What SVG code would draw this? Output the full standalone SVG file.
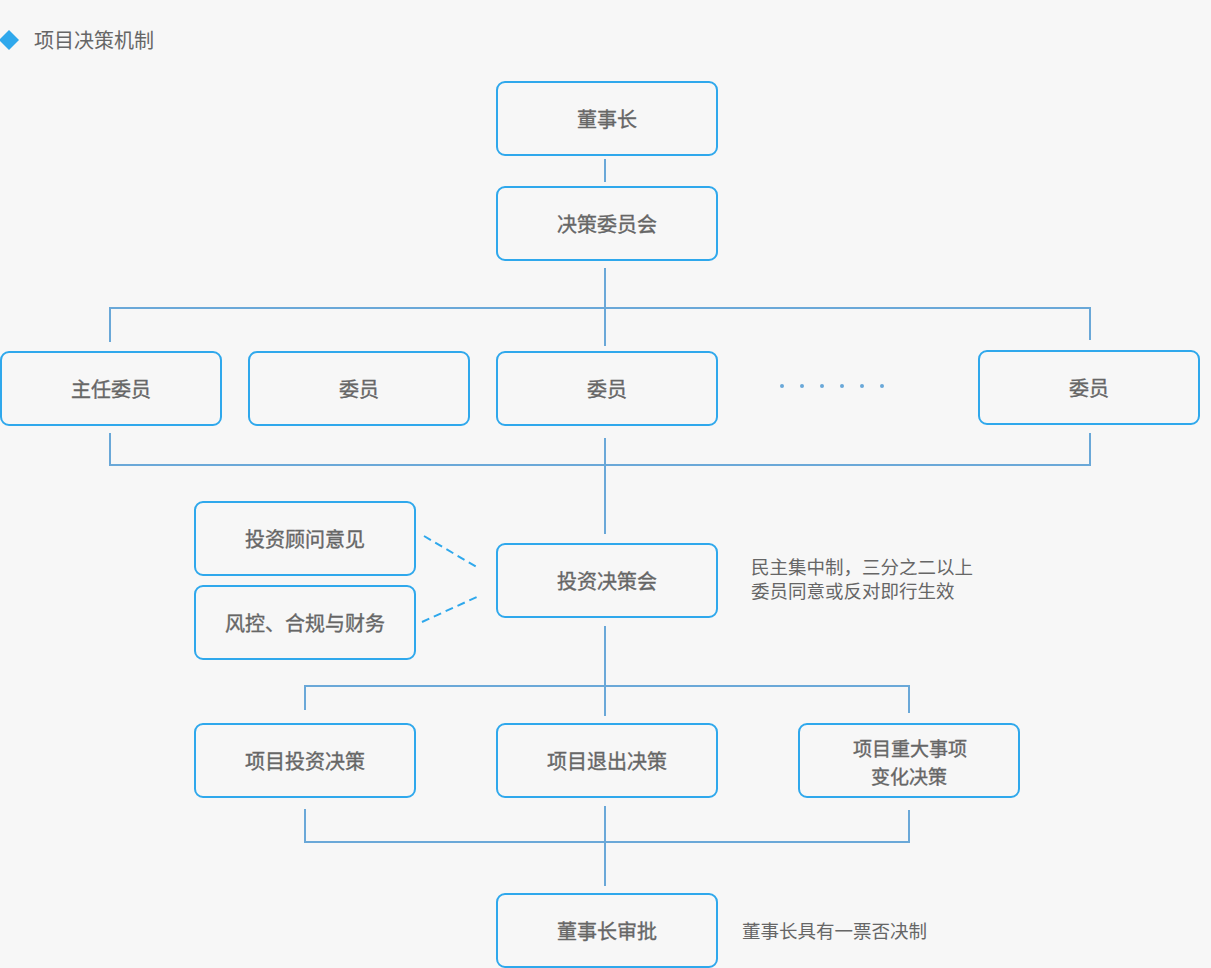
<svg xmlns="http://www.w3.org/2000/svg" width="1211" height="968" viewBox="0 0 1211 968">
<style>
.bg{fill:#f7f7f7}
.box{fill:#f7f7f7;stroke:#2fa8ec;stroke-width:2}
.lbl{font-family:"Noto Sans CJK SC","Noto Sans",sans-serif;font-size:20px;font-weight:normal;fill:#666;stroke:#666;stroke-width:0.35;text-anchor:middle;dominant-baseline:central}
.sm{font-size:19px}
.note{font-family:"Noto Sans CJK SC","Noto Sans",sans-serif;font-size:18.5px;fill:#666}
.title{font-family:"Noto Sans CJK SC","Noto Sans",sans-serif;font-size:20px;fill:#666}
.ln{fill:none;stroke:#6aa8d8;stroke-width:2}
.dash{fill:none;stroke:#2fa8ec;stroke-width:2;stroke-dasharray:8 5}
.dot{fill:#6aa8d8}
</style>
<rect class="bg" x="0" y="0" width="1211" height="968"/>
<g id="title">
<polygon points="9,30 19,40 9,50 -1,40" fill="#2fa8ec"/>
<text class="title" x="34" y="48">项目决策机制</text>
</g>
<g id="connectors">
<path class="ln" d="M605,159V182"/>
<path class="ln" d="M605,268V346M110,342V308H1090V340"/>
<path class="ln" d="M110,433V465H1090V433M605,438V534"/>
<path class="ln" d="M605,626V716M305,710V686H909V713"/>
<path class="ln" d="M305,809V842H909V810M605,806V886"/>
<path class="dash" d="M424,536L480,569"/>
<path class="dash" d="M422,622L479,596"/>
<g id="ellipsis">
<circle class="dot" cx="782" cy="386" r="2"/>
<circle class="dot" cx="802" cy="386" r="2"/>
<circle class="dot" cx="822" cy="386" r="2"/>
<circle class="dot" cx="842" cy="386" r="2"/>
<circle class="dot" cx="862" cy="386" r="2"/>
<circle class="dot" cx="882" cy="386" r="2"/>
</g>
</g>
<g id="n-chairman"><rect class="box" x="497" y="82" width="220" height="73" rx="8"/><text class="lbl" x="607" y="118">董事长</text></g>
<g id="n-committee"><rect class="box" x="497" y="187" width="220" height="73" rx="8"/><text class="lbl" x="607" y="223">决策委员会</text></g>
<g id="n-director"><rect class="box" x="1" y="352" width="220" height="73" rx="8"/><text class="lbl" x="111" y="388">主任委员</text></g>
<g id="n-member1"><rect class="box" x="249" y="352" width="220" height="73" rx="8"/><text class="lbl" x="359" y="388">委员</text></g>
<g id="n-member2"><rect class="box" x="497" y="352" width="220" height="73" rx="8"/><text class="lbl" x="607" y="388">委员</text></g>
<g id="n-member3"><rect class="box" x="979" y="351" width="220" height="73" rx="8"/><text class="lbl" x="1089" y="387">委员</text></g>
<g id="n-advisor"><rect class="box" x="195" y="502" width="220" height="73" rx="8"/><text class="lbl" x="305" y="538">投资顾问意见</text></g>
<g id="n-risk"><rect class="box" x="195" y="586" width="220" height="73" rx="8"/><text class="lbl" x="305" y="622">风控、合规与财务</text></g>
<g id="n-invest-meeting"><rect class="box" x="497" y="544" width="220" height="73" rx="8"/><text class="lbl" x="607" y="580">投资决策会</text></g>
<g id="n-invest"><rect class="box" x="195" y="724" width="220" height="73" rx="8"/><text class="lbl" x="305" y="760">项目投资决策</text></g>
<g id="n-exit"><rect class="box" x="497" y="724" width="220" height="73" rx="8"/><text class="lbl" x="607" y="760">项目退出决策</text></g>
<g id="n-major"><rect class="box" x="799" y="724" width="220" height="73" rx="8"/><text class="lbl sm" x="910" y="747">项目重大事项</text><text class="lbl sm" x="909" y="775">变化决策</text></g>
<g id="n-approve"><rect class="box" x="497" y="894" width="220" height="73" rx="8"/><text class="lbl" x="607" y="930">董事长审批</text></g>
<g id="notes">
<text class="note" x="751" y="574">民主集中制，三分之二以上</text>
<text class="note" x="751" y="598">委员同意或反对即行生效</text>
<text class="note" x="742" y="938">董事长具有一票否决制</text>
</g>
</svg>
